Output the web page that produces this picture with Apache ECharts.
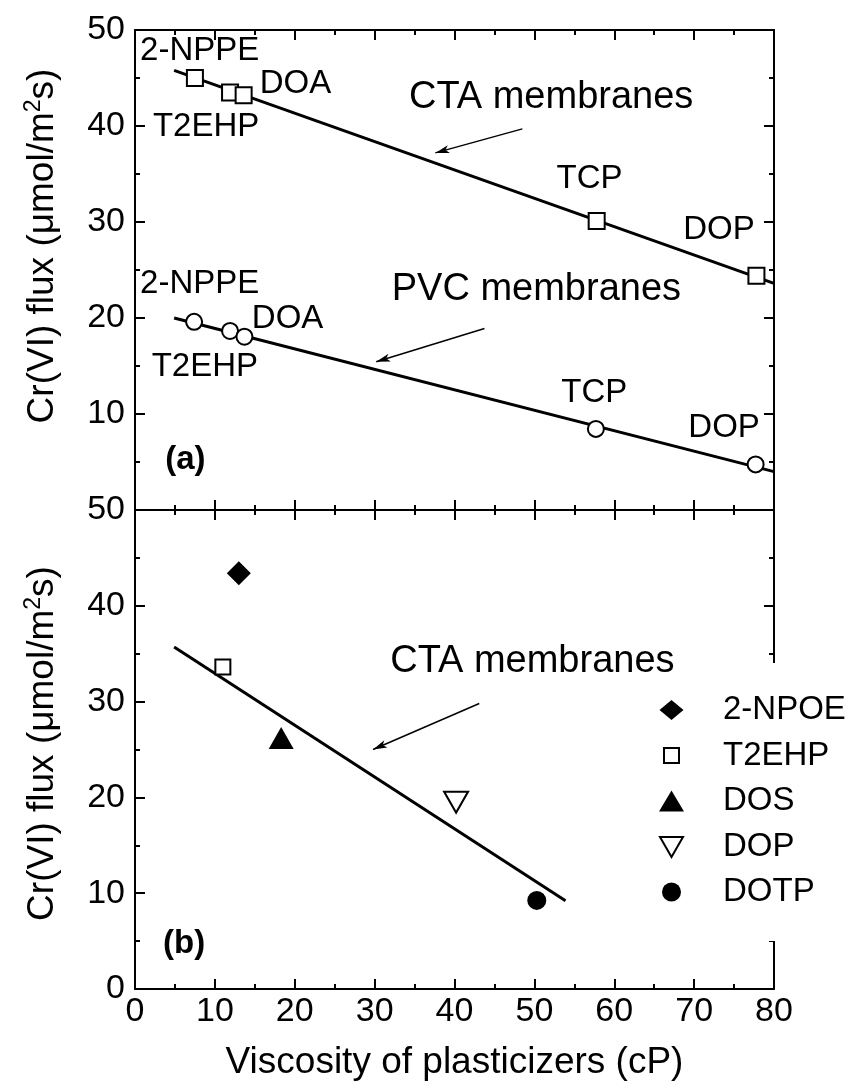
<!DOCTYPE html>
<html>
<head>
<meta charset="utf-8">
<title>Cr(VI) flux vs viscosity of plasticizers</title>
<script src="https://cdn.jsdelivr.net/npm/echarts@6/dist/echarts.min.js"></script>
<style>
  html, body { margin: 0; padding: 0; background: #fff; }
  #chart { width: 851px; height: 1091px; }
</style>
</head>
<body>
<div id="chart"></div>
<script>
// panel (a): CTA (squares) and PVC (circles) membranes
const ctaA = [[7.5, 45.0], [11.9, 43.5], [13.6, 43.2], [57.8, 30.1], [77.8, 24.4]]
const pvcA = [[7.4, 19.6], [11.9, 18.65], [13.7, 18.05], [57.7, 8.45], [77.7, 4.75]]
const ctaFitA = [[4.9, 45.8], [80, 23.6]]
const pvcFitA = [[4.9, 20.0], [80, 4.0]]

// panel (b): CTA membranes, one point per plasticizer
const npoeB = [[13.0, 43.4]]
const t2ehpB = [[11.0, 33.6]]
const dosB = [[18.3, 26.2]]
const dopB = [[40.2, 19.5]]
const dotpB = [[50.3, 9.25]]
const ctaFitB = [[4.9, 35.7], [53.9, 9.2]]

// text notes in data units: [text, x, y]
const notesA = [
  ['2-NPPE', 8.1, 47.8], ['T2EHP', 8.9, 39.9], ['DOA', 20.1, 44.4], ['TCP', 56.9, 34.5], ['DOP', 73.1, 29.2],
  ['2-NPPE', 8.1, 23.6], ['T2EHP', 8.75, 14.9], ['DOA', 19.1, 19.9], ['TCP', 57.5, 12.2], ['DOP', 73.75, 8.5],
]
const membranesA = [['CTA membranes', 52.1, 43.0], ['PVC membranes', 50.25, 23.0]]
const membranesB = [['CTA membranes', 49.75, 34.2]]
const tagA = [['(a)', 6.3, 5.2]]
const tagB = [['(b)', 6.15, 4.7]]
const arrowsA = [[[48.5, 39.7], [37.6, 37.2]], [[43.75, 18.9], [30.2, 15.45]]]
const arrowsB = [[[43.1, 29.8], [29.8, 25.0]]]

const font = 'Liberation Sans, Arial, Helvetica, sans-serif'
const black = '#000'
const yName = 'Cr(VI) flux (μmol/m{sup|2}s)'

const chart = echarts.init(document.getElementById('chart'))

function frameAxis(gridIndex, position, extra) {
  return Object.assign({
    type: 'value',
    gridIndex,
    position,
    min: 0,
    interval: 10,
    axisLine: { onZero: false, lineStyle: { color: black, width: 2 } },
    axisTick: { inside: true, length: 10, lineStyle: { color: black, width: 2 } },
    minorTick: { show: true, splitNumber: 2, length: 5, lineStyle: { color: black, width: 2 } },
    axisLabel: { show: false },
    splitLine: { show: false },
  }, extra)
}

const tickLabel = { fontFamily: font, fontSize: 34, color: black }

function yTitle(shift) {
  return {
    name: yName,
    nameLocation: 'middle',
    nameGap: 72,
    nameTextStyle: {
      fontFamily: font, fontSize: 37, color: black, lineHeight: 41,
      padding: [0, 0, 0, shift],
      rich: { sup: { fontFamily: font, fontSize: 23, lineHeight: 23, verticalAlign: 'top', color: black } },
    },
  }
}

function textSeries(items, xi, yi, size, weight) {
  return {
    type: 'scatter', xAxisIndex: xi, yAxisIndex: yi, silent: true, z: 10,
    symbolSize: 1, itemStyle: { color: 'transparent', opacity: 1 },
    label: {
      show: true, position: 'inside', formatter: p => p.data[2],
      fontFamily: font, fontSize: size, fontWeight: weight || 'normal', color: black, opacity: 1,
    },
    data: items.map(([t, x, y]) => [x, y, t]),
  }
}

function fitSeries(points, arrows, xi, yi) {
  return {
    type: 'line', xAxisIndex: xi, yAxisIndex: yi, silent: true,
    showSymbol: false, symbol: 'none',
    itemStyle: { color: black },
    lineStyle: { color: black, width: 3 },
    data: points,
    markLine: {
      silent: true, animation: false,
      symbol: ['none', 'arrow'], symbolSize: 12,
      label: { show: false },
      itemStyle: { color: black },
      lineStyle: { color: black, width: 1.5, type: 'solid' },
      data: arrows.map(([a, b]) => [
        { coord: a, symbol: 'none' },
        { coord: b, symbol: 'arrow', symbolSize: [6, 14] },
      ]),
    },
  }
}

function marker(name, data, symbol, size, filled, extra) {
  return Object.assign({
    name, type: 'scatter', xAxisIndex: 2, yAxisIndex: 2, z: 5, silent: true,
    symbol, symbolSize: size, data,
    itemStyle: filled
      ? { color: black, borderColor: black, borderWidth: 0, opacity: 1 }
      : { color: '#fff', borderColor: black, borderWidth: 2, opacity: 1 },
  }, extra)
}

const option = {
  animation: false,
  backgroundColor: '#fff',
  grid: [
    { left: 135, right: 77, top: 30, height: 480 },
    { left: 135, right: 77, top: 510, height: 479 },
  ],
  xAxis: [
    frameAxis(0, 'bottom', { max: 80 }),
    frameAxis(0, 'top', { max: 80 }),
    frameAxis(1, 'bottom', {
      max: 80,
      axisLabel: Object.assign({ show: true, margin: 6 }, tickLabel),
      name: 'Viscosity of plasticizers (cP)',
      nameLocation: 'middle',
      nameGap: 55,
      nameTextStyle: { fontFamily: font, fontSize: 37, color: black },
    }),
    frameAxis(1, 'top', { max: 80 }),
  ],
  yAxis: [
    frameAxis(0, 'left', Object.assign({
      max: 50,
      axisLabel: Object.assign({ show: true, margin: 10, formatter: v => (v === 0 ? '' : v) }, tickLabel),
    }, yTitle(48))),
    frameAxis(0, 'right', { max: 50 }),
    frameAxis(1, 'left', Object.assign({
      max: 50,
      axisLabel: Object.assign({ show: true, margin: 10 }, tickLabel),
    }, yTitle(12))),
    frameAxis(1, 'right', { max: 50 }),
  ],
  legend: {
    orient: 'vertical',
    left: 648,
    top: 663,
    padding: [29, 14, 31, 10],
    backgroundColor: '#fff',
    selectedMode: false,
    itemWidth: 25,
    itemHeight: 25,
    itemGap: 9.5,
    textStyle: { fontFamily: font, fontSize: 33, color: black, lineHeight: 36, padding: [0, 0, 0, 34] },
    data: [
      { name: '2-NPOE', icon: 'path://M0,0M25,25M12.5,2.5L24.5,12.5L12.5,22.5L0.5,12.5Z' },
      { name: 'T2EHP', icon: 'path://M0,0M25,25M5,5H20V20H5Z' },
      { name: 'DOS', icon: 'path://M0,0M25,25M12.5,2L25,23H0Z' },
      { name: 'DOP', icon: 'path://M0,0M25,25M1,3H24L12.5,23Z' },
      { name: 'DOTP', icon: 'path://M0,0M25,25M3,12.5A9.5,9.5 0 1 1 22,12.5A9.5,9.5 0 1 1 3,12.5Z' },
    ],
  },
  series: [
    // panel (a)
    fitSeries(ctaFitA, arrowsA.slice(0, 1), 0, 0),
    fitSeries(pvcFitA, arrowsA.slice(1), 0, 0),
    {
      type: 'scatter', xAxisIndex: 0, yAxisIndex: 0, z: 5, silent: true,
      symbol: 'rect', symbolSize: 16, data: ctaA,
      itemStyle: { color: '#fff', borderColor: black, borderWidth: 2, opacity: 1 },
    },
    {
      type: 'scatter', xAxisIndex: 0, yAxisIndex: 0, z: 5, silent: true,
      symbol: 'circle', symbolSize: 16, data: pvcA,
      itemStyle: { color: '#fff', borderColor: black, borderWidth: 2, opacity: 1 },
    },
    textSeries(notesA, 0, 0, 33),
    textSeries(membranesA, 0, 0, 38),
    textSeries(tagA, 0, 0, 33, 'bold'),
    // panel (b)
    fitSeries(ctaFitB, arrowsB, 2, 2),
    marker('2-NPOE', npoeB, 'diamond', 24, true),
    marker('T2EHP', t2ehpB, 'rect', 15, false),
    marker('DOS', dosB, 'triangle', [25, 22], true),
    marker('DOP', dopB, 'triangle', [24, 21], false, { symbolRotate: 180 }),
    marker('DOTP', dotpB, 'circle', 19, true),
    textSeries(membranesB, 2, 2, 38),
    textSeries(tagB, 2, 2, 33, 'bold'),
  ],
}

chart.setOption(option)
</script>
</body>
</html>
